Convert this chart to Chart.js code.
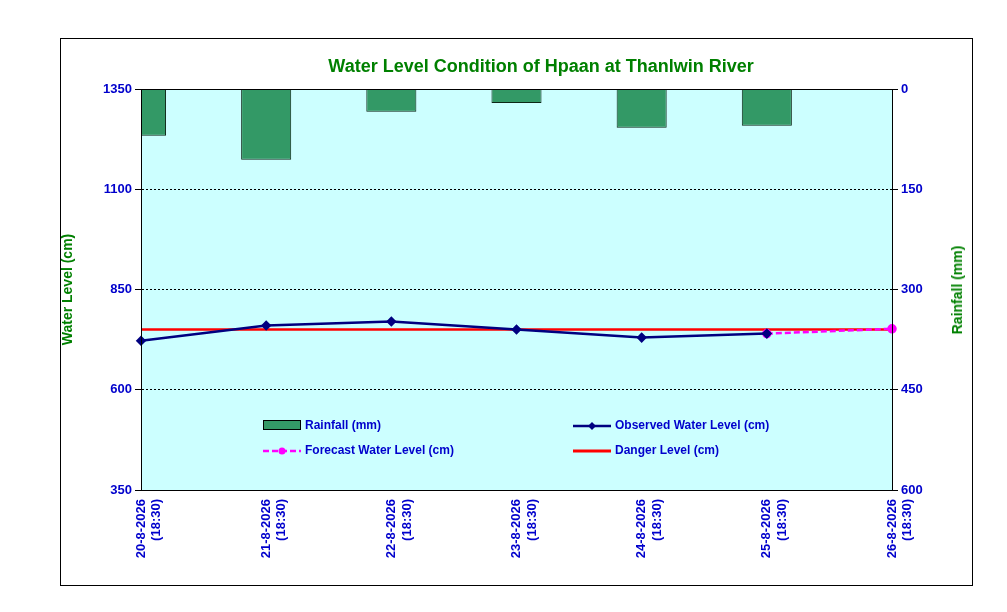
<!DOCTYPE html>
<html><head><meta charset="utf-8">
<script src="https://cdn.jsdelivr.net/npm/chart.js@4"></script>
<style>
body{margin:0;background:#fff;font-family:Arial,"Liberation Sans",sans-serif;}
#frame{position:absolute;left:60px;top:38px;width:911px;height:546px;border:1px solid #000;}
#wrap{position:absolute;left:60px;top:38px;width:912px;height:547px;}
#title{position:absolute;left:141px;width:800px;top:56px;text-align:center;color:#008000;font-weight:bold;font-size:18px;}
#rtitle{position:absolute;left:957px;top:290px;transform:translate(-50%,-50%) rotate(-90deg);color:#008000;font-weight:bold;font-size:14px;white-space:nowrap;}
.lg{position:absolute;font-size:12px;font-weight:bold;color:#0000cc;display:flex;align-items:center;}
.lg span.k{display:inline-block;width:38px;height:10px;margin-right:4px;position:relative;}
</style></head><body>
<div id="frame"></div>
<div id="wrap"><canvas id="c" width="912" height="547"></canvas></div>
<div id="title">Water Level Condition of Hpaan at Thanlwin River</div>
<div id="rtitle">Rainfall (mm)</div>
<div class="lg" style="left:263px;top:418px"><span class="k" style="background:#339966;border:1px solid #000;width:36px;height:8px"></span>Rainfall (mm)</div>
<div class="lg" style="left:573px;top:418px"><span class="k"><svg width="38" height="10"><line x1="0" y1="5" x2="38" y2="5" stroke="#000080" stroke-width="2.5"/><path d="M19 1L23 5L19 9L15 5Z" fill="#000080"/></svg></span>Observed Water Level (cm)</div>
<div class="lg" style="left:263px;top:443px"><span class="k"><svg width="38" height="10"><line x1="0" y1="5" x2="38" y2="5" stroke="#ff00ff" stroke-width="2.5" stroke-dasharray="6,3"/><circle cx="19" cy="5" r="3.5" fill="#ff00ff"/></svg></span>Forecast Water Level (cm)</div>
<div class="lg" style="left:573px;top:443px"><span class="k"><svg width="38" height="10"><line x1="0" y1="5" x2="38" y2="5" stroke="#ff0000" stroke-width="3"/></svg></span>Danger Level (cm)</div>
<script>
const dates     = ['20-8-2026','21-8-2026','22-8-2026','23-8-2026','24-8-2026','25-8-2026','26-8-2026'];
const rainfall  = [70, 106, 34, 21, 58, 55, null];
const observed  = [722, 760, 770, 750, 730, 740, null];
const forecast  = [null, null, null, null, null, 740, 752];
const danger    = [750, 750, 750, 750, 750, 750, 750];

const blue = '#0000cc';
const tickFont = { family: 'Arial', size: 13, weight: 'bold' };

const plotBg = {
  id: 'plotBg',
  beforeDraw(chart) {
    const { ctx, chartArea: a } = chart;
    ctx.save();
    ctx.fillStyle = '#ccffff';
    ctx.fillRect(a.left, a.top, a.right - a.left, a.bottom - a.top);
    ctx.restore();
  },
  afterDraw(chart) {
    const { ctx, chartArea: a } = chart;
    ctx.save();
    ctx.strokeStyle = '#000';
    ctx.lineWidth = 1;
    ctx.strokeRect(a.left + 0.5, a.top + 0.5, a.right - a.left, a.bottom - a.top);
    ctx.restore();
  },
};

new Chart(document.getElementById('c'), {
  data: {
    labels: dates.map(d => [d, '(18:30)']),
    datasets: [
      { type: 'line', data: danger, borderColor: '#ff0000', borderWidth: 2.5, pointRadius: 0, yAxisID: 'y', order: 3 },
      { type: 'line', data: observed, borderColor: '#000080', backgroundColor: '#000080', borderWidth: 2.5,
        pointStyle: 'rectRot', pointRadius: 3.5, yAxisID: 'y', order: 1 },
      { type: 'line', data: forecast, borderColor: '#ff00ff', backgroundColor: '#ff00ff', borderWidth: 2.5,
        borderDash: [6, 3], pointRadius: 3.5, yAxisID: 'y', order: 2 },
      { type: 'bar', data: rainfall, backgroundColor: '#339966', borderColor: '#0d2616', borderWidth: 1,
        barPercentage: 0.4, categoryPercentage: 1, yAxisID: 'y2', order: 4 },
    ],
  },
  options: {
    responsive: false,
    animation: false,
    layout: { padding: { top: 51, left: 0, right: 0, bottom: 0 } },
    plugins: { legend: { display: false }, tooltip: { enabled: false } },
    scales: {
      x: {
        offset: false,
        grid: { display: false, drawOnChartArea: false, tickLength: 6, color: '#000' },
        border: { color: '#000' },
        ticks: { color: blue, font: tickFont, minRotation: 90, maxRotation: 90, autoSkip: false },
        afterFit: s => { s.height = 95; },
      },
      y: {
        position: 'left', min: 350, max: 1350,
        ticks: { stepSize: 250, color: blue, font: tickFont, callback: v => String(v) },
        grid: { color: '#000', borderDash: [2, 2], tickLength: 6, drawTicks: true },
        border: { color: '#000', dash: [2, 2] },
        title: { display: true, text: 'Water Level (cm)', color: '#008000', font: { family: 'Arial', size: 14, weight: 'bold' }, padding: { top: 0, bottom: 14 } },
        afterFit: s => { s.width = 81; },
      },
      y2: {
        position: 'right', min: 0, max: 600, reverse: true,
        ticks: { stepSize: 150, color: blue, font: tickFont, callback: v => String(v) },
        grid: { drawOnChartArea: false, tickLength: 6, color: '#000' },
        border: { color: '#000' },
        afterFit: s => { s.width = 80; },
      },
    },
  },
  plugins: [plotBg],
});
</script>
</body></html>
